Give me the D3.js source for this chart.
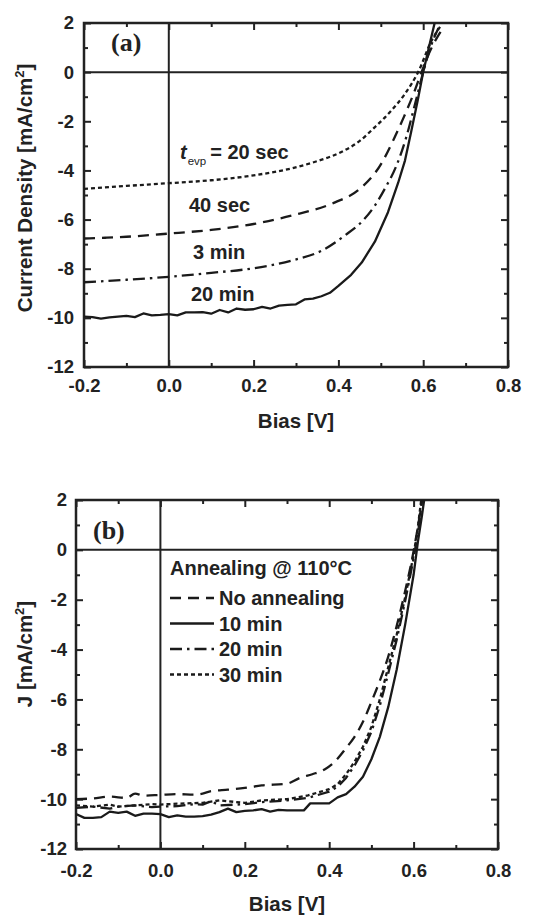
<!DOCTYPE html>
<html><head><meta charset="utf-8">
<script src="https://cdn.jsdelivr.net/npm/d3@7"></script>
<style>body{margin:0;background:#fff} svg{display:block} text{font-family:"Liberation Sans",Arial,sans-serif;font-weight:bold;fill:#222}</style>
</head><body>
<svg id="c" width="536" height="915"></svg>
<script>
// ---------- shared ticks ----------
const xMajor = [-0.2, 0.0, 0.2, 0.4, 0.6, 0.8];
const xMinor = [-0.1, 0.1, 0.3, 0.5, 0.7];
const yMajor = [2, 0, -2, -4, -6, -8, -10, -12];
const yMinor = [1, -1, -3, -5, -7, -9, -11];

// ---------- panel (a): evaporation time ----------
const a_20sec = [[-0.2,-4.75],[-0.1,-4.63],[0.0,-4.52],[0.1,-4.4],[0.2,-4.2],[0.289,-3.92],[0.35,-3.62],[0.407,-3.25],[0.447,-2.84],[0.486,-2.24],[0.525,-1.56],[0.557,-0.88],[0.588,0],[0.62,1.29],[0.64,1.85]];
const a_40sec = [[-0.2,-6.77],[-0.15,-6.74],[-0.1,-6.7],[0.0,-6.57],[0.1,-6.42],[0.2,-6.18],[0.289,-5.84],[0.392,-5.3],[0.447,-4.8],[0.502,-3.7],[0.53,-2.75],[0.555,-1.8],[0.578,-0.85],[0.596,0],[0.62,1.0],[0.645,1.75]];
const a_3min = [[-0.2,-8.55],[-0.1,-8.45],[0.0,-8.33],[0.1,-8.17],[0.2,-7.98],[0.289,-7.67],[0.36,-7.27],[0.415,-6.65],[0.458,-6.04],[0.486,-5.43],[0.51,-4.73],[0.537,-3.8],[0.56,-2.65],[0.58,-1.35],[0.6,0],[0.618,1.05],[0.636,1.8]];
const a_20min = [[-0.2,-9.95],[-0.18,-9.97],[-0.16,-10.03],[-0.14,-9.98],[-0.12,-9.95],[-0.1,-9.92],[-0.08,-9.97],[-0.06,-9.82],[-0.04,-9.9],[-0.02,-9.88],[0.0,-9.85],[0.02,-9.9],[0.04,-9.78],[0.06,-9.78],[0.08,-9.77],[0.1,-9.83],[0.12,-9.68],[0.14,-9.78],[0.16,-9.62],[0.18,-9.67],[0.2,-9.65],[0.22,-9.55],[0.24,-9.62],[0.26,-9.5],[0.28,-9.47],[0.3,-9.45],[0.32,-9.25],[0.34,-9.22],[0.36,-9.12],[0.38,-8.98],[0.4,-8.7],[0.43,-8.25],[0.455,-7.75],[0.486,-6.9],[0.517,-5.7],[0.541,-4.5],[0.557,-3.6],[0.572,-2.4],[0.587,-1.15],[0.6,0],[0.616,1.2],[0.627,2.0]];

// ---------- panel (b): annealing ----------
const b_none = [[-0.2,-10.0],[-0.16,-9.97],[-0.12,-9.9],[-0.08,-9.95],[-0.06,-9.78],[-0.04,-9.86],[0.0,-9.83],[0.04,-9.8],[0.08,-9.82],[0.1,-9.78],[0.12,-9.68],[0.16,-9.62],[0.2,-9.55],[0.24,-9.45],[0.3,-9.38],[0.33,-9.15],[0.36,-9.0],[0.39,-8.8],[0.41,-8.55],[0.44,-7.95],[0.46,-7.5],[0.48,-6.9],[0.5,-6.1],[0.52,-5.25],[0.539,-4.33],[0.56,-3.05],[0.58,-1.65],[0.6,-0.05],[0.61,0.9],[0.62,2.0]];
const b_10min = [[-0.2,-10.6],[-0.18,-10.75],[-0.16,-10.75],[-0.14,-10.72],[-0.12,-10.5],[-0.1,-10.55],[-0.08,-10.5],[-0.06,-10.67],[-0.04,-10.58],[-0.02,-10.58],[0.0,-10.6],[0.02,-10.72],[0.04,-10.65],[0.06,-10.7],[0.08,-10.7],[0.1,-10.68],[0.12,-10.62],[0.14,-10.52],[0.16,-10.38],[0.18,-10.52],[0.2,-10.47],[0.22,-10.45],[0.24,-10.4],[0.26,-10.5],[0.28,-10.43],[0.3,-10.45],[0.34,-10.45],[0.355,-10.17],[0.4,-10.17],[0.42,-9.93],[0.44,-9.8],[0.46,-9.5],[0.48,-9.1],[0.5,-8.4],[0.52,-7.5],[0.54,-6.3],[0.56,-4.8],[0.58,-3.0],[0.6,-1.0],[0.61,0.3],[0.62,1.4],[0.625,2.0]];
const b_20min = [[-0.2,-10.35],[-0.16,-10.3],[-0.12,-10.38],[-0.1,-10.3],[-0.06,-10.25],[-0.02,-10.32],[0.0,-10.3],[0.04,-10.28],[0.08,-10.2],[0.1,-10.22],[0.12,-10.08],[0.14,-10.25],[0.2,-10.2],[0.24,-10.12],[0.3,-10.05],[0.35,-9.95],[0.4,-9.7],[0.42,-9.5],[0.44,-9.15],[0.46,-8.65],[0.48,-8.05],[0.5,-7.3],[0.52,-6.25],[0.54,-4.95],[0.56,-3.6],[0.58,-2.05],[0.6,-0.35],[0.612,0.9],[0.62,2.0]];
const b_30min = [[-0.2,-10.25],[-0.16,-10.3],[-0.12,-10.22],[-0.1,-10.3],[-0.06,-10.25],[-0.02,-10.2],[0.0,-10.22],[0.04,-10.18],[0.1,-10.15],[0.14,-10.05],[0.2,-10.15],[0.24,-10.05],[0.3,-10.0],[0.35,-9.85],[0.4,-9.6],[0.42,-9.4],[0.44,-9.0],[0.46,-8.5],[0.48,-7.9],[0.5,-7.1],[0.52,-6.0],[0.54,-4.7],[0.56,-3.4],[0.58,-1.9],[0.6,-0.2],[0.61,0.9],[0.618,2.0]];

const svg = d3.select("#c");
const dashes = {solid:null, dash:"11,7", dot:"4,3", dashdot:"12,5,2.5,5"};
const fmtX = d => d3.format(".1f")(d).replace("\u2212", "-");
const fmtY = d => d3.format("d")(d).replace("\u2212", "-");

function panel(cfg) {
  const x = d3.scaleLinear().domain([-0.2, 0.8]).range([cfg.l, cfg.r]);
  const y = d3.scaleLinear().domain([-12, 2]).range([cfg.b, cfg.t]);
  const g = svg.append("g");
  const clipId = "clip" + cfg.id;
  svg.append("clipPath").attr("id", clipId).append("rect")
    .attr("x", cfg.l).attr("y", cfg.t).attr("width", cfg.r - cfg.l).attr("height", cfg.b - cfg.t);

  const st = a => a.call(s => s.select(".domain").remove())
    .call(s => s.selectAll("line").attr("stroke", "#222").attr("stroke-width", 2))
    .call(s => s.selectAll("text").attr("font-size", 18.5).attr("font-family", "Liberation Sans, Arial").attr("font-weight", "bold").attr("fill", "#222"));
  g.append("g").attr("transform", `translate(0,${cfg.b})`).call(d3.axisBottom(x).tickValues(xMajor).tickSize(-7).tickPadding(cfg.xpad).tickFormat(fmtX)).call(st);
  g.append("g").attr("transform", `translate(0,${cfg.b})`).call(d3.axisBottom(x).tickValues(xMinor).tickSize(-4).tickFormat("")).call(st);
  g.append("g").attr("transform", `translate(0,${cfg.t})`).call(d3.axisTop(x).tickValues(xMajor).tickSize(-7).tickFormat("")).call(st);
  g.append("g").attr("transform", `translate(0,${cfg.t})`).call(d3.axisTop(x).tickValues(xMinor).tickSize(-4).tickFormat("")).call(st);
  g.append("g").attr("transform", `translate(${cfg.l},0)`).call(d3.axisLeft(y).tickValues(yMajor).tickSize(-7).tickPadding(cfg.ypad).tickFormat(fmtY)).call(st);
  g.append("g").attr("transform", `translate(${cfg.l},0)`).call(d3.axisLeft(y).tickValues(yMinor).tickSize(-4).tickFormat("")).call(st);
  g.append("g").attr("transform", `translate(${cfg.r},0)`).call(d3.axisRight(y).tickValues(yMajor).tickSize(-7).tickFormat("")).call(st);
  g.append("g").attr("transform", `translate(${cfg.r},0)`).call(d3.axisRight(y).tickValues(yMinor).tickSize(-4).tickFormat("")).call(st);

  g.append("line").attr("x1", cfg.l).attr("x2", cfg.r).attr("y1", y(0)).attr("y2", y(0)).attr("stroke", "#222").attr("stroke-width", 2);
  g.append("line").attr("x1", x(0)).attr("x2", x(0)).attr("y1", cfg.t).attr("y2", cfg.b).attr("stroke", "#222").attr("stroke-width", 2);

  g.append("rect").attr("x", cfg.l).attr("y", cfg.t).attr("width", cfg.r - cfg.l).attr("height", cfg.b - cfg.t)
    .attr("fill", "none").attr("stroke", "#222").attr("stroke-width", 2.5);

  cfg.series.forEach(s => {
    const line = d3.line().x(d => x(d[0])).y(d => y(d[1]))
      .curve(s.noisy ? d3.curveLinear : d3.curveMonotoneX);
    g.append("path").datum(s.data).attr("d", line).attr("clip-path", `url(#${clipId})`)
      .attr("fill", "none").attr("stroke", "#1a1a1a").attr("stroke-width", 2.3)
      .attr("stroke-dasharray", dashes[s.style]).attr("stroke-linejoin", "round");
  });

  g.append("text").attr("x", (cfg.l + cfg.r) / 2).attr("y", cfg.xTitleY).attr("text-anchor", "middle")
    .attr("font-size", 20.5).text("Bias [V]");
  const yt = g.append("text").attr("transform", `translate(${cfg.yTitleX},${cfg.yTitleC}) rotate(-90)`)
    .attr("text-anchor", "middle").attr("font-size", 20.5);
  yt.append("tspan").text(cfg.yTitle + " [mA/cm");
  yt.append("tspan").attr("font-size", 13).attr("dy", -8).text("2");
  yt.append("tspan").attr("dy", 8).text("]");
  g.append("text").attr("x", cfg.letterX).attr("y", cfg.letterY).attr("font-size", 26)
    .style("font-family", "'Liberation Serif', 'Times New Roman', serif").attr("font-weight", "bold").text(cfg.letter);
  return {x, y, g};
}

// Panel (a)
const A = panel({id: "a", l: 84, r: 508, t: 23, b: 367, xpad: 12, ypad: 10, xTitleY: 428, yTitleX: 32, yTitleC: 188,
  yTitle: "Current Density", letter: "(a)", letterX: 111, letterY: 51,
  series: [{data: a_20sec, style: "dot"}, {data: a_40sec, style: "dash"}, {data: a_3min, style: "dashdot"}, {data: a_20min, style: "solid", noisy: true}]});

const t1 = A.g.append("text").attr("x", 180).attr("y", 159).attr("font-size", 20);
t1.append("tspan").attr("font-style", "italic").text("t");
t1.append("tspan").attr("font-size", 11.5).attr("font-weight", "normal").attr("dy", 6).attr("dx", 1).text("evp");
t1.append("tspan").attr("dy", -6).attr("dx", 4).text("= 20 sec");
[["40 sec", 189, 212], ["3 min", 193, 259], ["20 min", 191, 301]].forEach(d =>
  A.g.append("text").attr("x", d[1]).attr("y", d[2]).attr("font-size", 20).text(d[0]));

// Panel (b)
const B = panel({id: "b", l: 76, r: 498, t: 500, b: 849, xpad: 15, ypad: 9, xTitleY: 911, yTitleX: 32, yTitleC: 654,
  yTitle: "J", letter: "(b)", letterX: 93, letterY: 539,
  series: [{data: b_none, style: "dash"}, {data: b_10min, style: "solid", noisy: true}, {data: b_20min, style: "dashdot", noisy: true}, {data: b_30min, style: "dot", noisy: true}]});

B.g.append("text").attr("x", 170).attr("y", 575).attr("font-size", 20).text("Annealing @ 110°C");
const legendItems = [["No annealing", "dash"], ["10 min", "solid"], ["20 min", "dashdot"], ["30 min", "dot"]];
legendItems.forEach((d, i) => {
  const yy = 598 + i * 25.5;
  B.g.append("line").attr("x1", 170).attr("x2", 214).attr("y1", yy).attr("y2", yy)
    .attr("stroke", "#1a1a1a").attr("stroke-width", 2.3).attr("stroke-dasharray", dashes[d[1]]);
  B.g.append("text").attr("x", 219).attr("y", yy + 7).attr("font-size", 20).text(d[0]);
});
</script>
</body></html>
